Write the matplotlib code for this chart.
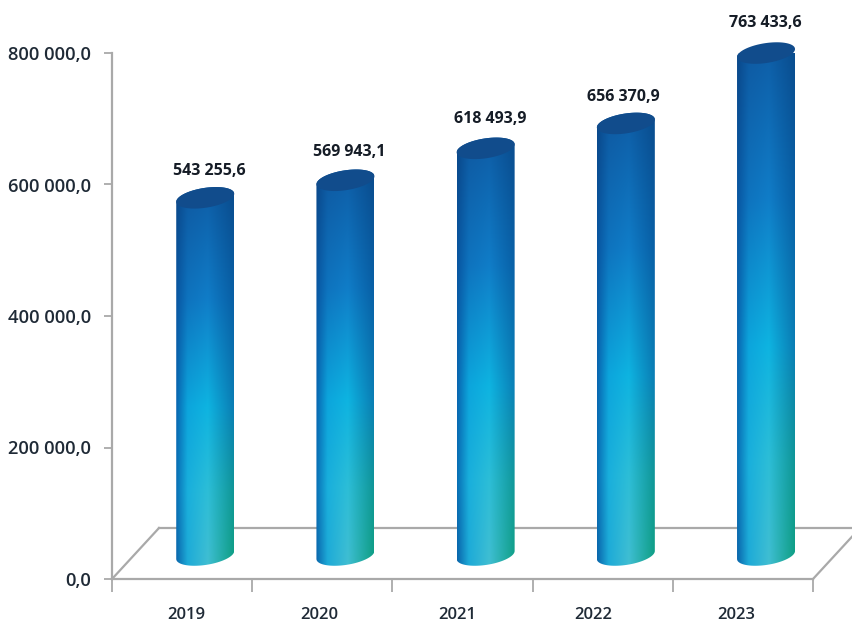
import numpy as np
import matplotlib
matplotlib.use('Agg')
import matplotlib.pyplot as plt
from matplotlib.path import Path
from matplotlib.patches import PathPatch

years = ['2019', '2020', '2021', '2022', '2023']
values = [543255.6, 569943.1, 618493.9, 656370.9, 763433.6]
value_labels = ['543 255,6', '569 943,1', '618 493,9', '656 370,9', '763 433,6']
y_ticks = [0, 200000, 400000, 600000, 800000]
y_tick_labels = ['0,0', '200 000,0', '400 000,0', '600 000,0', '800 000,0']

W, H = 853, 627
AX_L, AX_R, AX_B, AX_T = 112, 813, 579, 53   # pixels, from top-left
GREY = '#a9a9a9'
TEXT = '#1f2a36'

px_x = 5 / (AX_R - AX_L)          # one pixel in category units
px_y = 800000 / (AX_B - AX_T)     # one pixel in value units

# colour table for the cylinder: rows bottom -> top, columns left -> right
gradient = np.array([
    [[10, 100, 170], [30, 170, 215], [65, 190, 210], [15, 160, 130]],
    [[8, 110, 180], [25, 175, 220], [45, 190, 215], [15, 150, 150]],
    [[8, 100, 175], [12, 165, 220], [14, 180, 225], [10, 125, 180]],
    [[8, 85, 160], [14, 115, 190], [16, 125, 200], [8, 95, 165]],
    [[10, 70, 135], [14, 88, 160], [14, 92, 165], [10, 75, 140]],
]) / 255
grad_v = [0, 0.2, 0.42, 0.7, 1]
grad_u = [0, 0.2, 0.55, 1]


def cylinder_image(n=200):
    u = np.linspace(0, 1, n)
    v = np.linspace(0, 1, n)
    by_col = np.stack([[np.interp(v, grad_v, gradient[:, c, k])
                        for k in range(3)] for c in range(4)])
    img = np.zeros((n, n, 3))
    for k in range(3):
        for row in range(n):
            img[row, :, k] = np.interp(u, grad_u, by_col[:, k, row])
    return img


def ellipse_xy(cx, cy, a, b, tilt, t):
    x = cx + a * np.cos(t)
    y = cy + b * np.sin(t) + tilt * np.cos(t)
    return x, y


fig = plt.figure(figsize=(W / 100, H / 100), dpi=100)
ax = fig.add_axes([AX_L / W, 1 - AX_B / H, (AX_R - AX_L) / W, (AX_B - AX_T) / H])
ax.set_xlim(0, 5)
ax.set_ylim(0, 800000)
plt.rcParams['font.family'] = ['Open Sans', 'DejaVu Sans']

for s in ['top', 'right']:
    ax.spines[s].set_visible(False)
for s in ['left', 'bottom']:
    ax.spines[s].set_color(GREY)
    ax.spines[s].set_linewidth(1.6)

# the 3D floor
depth_x = 47 * px_x
depth_y = 51 * px_y
floor_kw = dict(color=GREY, lw=1.6, clip_on=False, zorder=1)
ax.plot([0, depth_x], [0, depth_y], **floor_kw)
ax.plot([depth_x, 5 + depth_x], [depth_y, depth_y], **floor_kw)
ax.plot([5, 5 + depth_x], [0, depth_y], **floor_kw)

ax.set_yticks(y_ticks)
ax.set_yticklabels(y_tick_labels, family='Open Sans', fontsize=13.2,
                   color=TEXT, fontweight='semibold')
ax.tick_params(axis='y', length=6, width=1.3, color=GREY, pad=9)
ax.set_xticks(range(6))
ax.set_xticklabels([])
ax.tick_params(axis='x', which='major', length=9, width=1.3, color=GREY)
ax.set_xticks([0.53, 1.48, 2.46, 3.43, 4.45], minor=True)
ax.set_xticklabels(years, minor=True, family='Open Sans', fontsize=12,
                   color=TEXT, fontweight='semibold')
ax.tick_params(axis='x', which='minor', length=0, pad=20)

# cylinders
bar_offset_x = 0.165
bar_offset_y = 24 * px_y
half_w = 29 * px_x
half_h = 10 * px_y
tilt = 4 * px_y
label_dy = [27, 28, 29, 26, 30]
label_dx = [3, 3, 3, -1.5, -0.7]
img = cylinder_image()

for i, val in enumerate(values):
    cx = i + 0.5 + bar_offset_x
    y0 = bar_offset_y
    y1 = val + bar_offset_y

    t_low = np.linspace(np.pi, 2 * np.pi, 40)
    t_up = np.linspace(0, np.pi, 40)
    xb, yb = ellipse_xy(cx, y0, half_w, half_h, tilt, t_low)
    xt, yt = ellipse_xy(cx, y1, half_w, half_h, tilt, t_up)
    verts = np.column_stack([np.r_[xb, xt], np.r_[yb, yt]])
    body = PathPatch(Path(np.vstack([verts, verts[0]]), closed=True),
                     transform=ax.transData, fc='none', ec='none')
    ax.add_patch(body)
    im = ax.imshow(img, origin='lower', aspect='auto', zorder=3,
                   extent=[cx - half_w, cx + half_w, y0 - half_h - tilt, y1 + half_h + tilt])
    im.set_clip_path(body)

    t_all = np.linspace(0, 2 * np.pi, 80)
    xc, yc = ellipse_xy(cx, y1, half_w, half_h, tilt, t_all)
    ax.fill(xc, yc, color='#114c8c', lw=0, zorder=4, clip_on=False)

    ax.annotate(value_labels[i], (cx, y1), xytext=(label_dx[i], label_dy[i] * 0.72),
                textcoords='offset points', ha='center', va='center',
                family='Open Sans', fontweight='bold',
                fontsize=11.5, color='#151c26', annotation_clip=False, zorder=5)

ax.set_xlim(0, 5)
ax.set_ylim(0, 800000)
fig.savefig('out.png', dpi=100)
